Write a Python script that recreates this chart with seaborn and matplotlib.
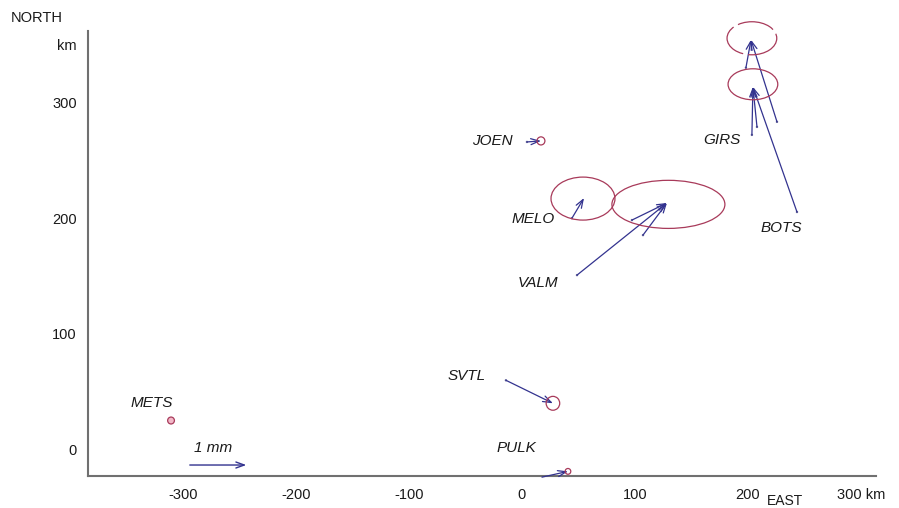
import numpy as np
import pandas as pd
import matplotlib
matplotlib.use("Agg")
import matplotlib.pyplot as plt
from matplotlib.patches import Ellipse
import seaborn as sns

# ---- data (km) ----
stations = ["JOEN", "MELO", "VALM", "GIRS", "BOTS", "SVTL", "PULK", "METS"]
label_x = [-26.5, 9.7, 14.2, 177.0, 229.2, -48.7, -5.3, -327.4]
label_y = [267.0, 199.3, 143.8, 267.8, 191.5, 63.3, 0.9, 39.9]

# velocity arrows: tail (station) -> tip
arrow_x0 = [4.4, 44.2, 48.7, 97.3, 107.1, 225.7, 198.2, 203.5, 208.0, 243.4, -14.2, 17.7]
arrow_y0 = [266.0, 200.0, 150.8, 198.4, 185.4, 283.4, 330.2, 272.1, 279.0, 205.4, 59.8, -24.0]
arrow_x1 = [16.8, 54.9, 128.3, 128.3, 128.3, 202.7, 202.7, 204.4, 204.4, 204.4, 27.4, 40.7]
arrow_y1 = [266.9, 217.5, 213.2, 213.2, 213.2, 354.4, 354.4, 313.7, 313.7, 313.7, 39.9, -19.0]

# error ellipses: centre, semi-axes
ell_x = [16.8, 54.0, 129.6, 203.5, 204.4, 27.4, 40.7, -310.6]
ell_y = [266.9, 217.0, 212.0, 355.7, 315.9, 39.9, -19.0, 25.0]
ell_a = [3.5, 28.3, 50.0, 22.0, 22.0, 6.0, 2.5, 3.0]
ell_b = [3.5, 18.6, 20.8, 14.3, 13.4, 6.0, 2.5, 3.0]

scale_x = [-294.0, -244.0]
scale_y = [-13.5, -13.5]

xticks = [-300, -200, -100, 0, 100, 200, 300]
xticklabels = ["-300", "-200", "-100", "0", "100", "200", "300 km"]
yticks = [0, 50, 100, 150, 200, 250, 300, 350]
yticklabels = ["0", "", "100", "", "200", "", "300", "km"]

sns.set_theme(style="white")
plt.rcParams["font.family"] = ["Liberation Sans", "DejaVu Sans"]

fig = plt.figure(figsize=(8.99, 5.08), dpi=100)
ax = fig.add_axes([0.098, 0.063, 0.876, 0.876])

arrow_col = "#33338f"
ell_col = "#a83a5a"

df = pd.DataFrame({"x": arrow_x0, "y": arrow_y0})
sns.scatterplot(data=df, x="x", y="y", ax=ax, s=3, color="#666699",
                edgecolor="none", legend=False, zorder=3)

for x0, y0, x1, y1 in zip(arrow_x0, arrow_y0, arrow_x1, arrow_y1):
    ax.annotate("", xy=(x1, y1), xytext=(x0, y0),
                arrowprops=dict(arrowstyle="->,head_length=0.5,head_width=0.18",
                                color=arrow_col, lw=0.9, shrinkA=0, shrinkB=0),
                annotation_clip=False)

for i, (cx, cy, a, b) in enumerate(zip(ell_x, ell_y, ell_a, ell_b)):
    fc = "#f2b8c8" if stations[i] == "METS" else "none"
    ls = (0, (30, 4)) if i == 3 else "-"
    e = Ellipse((cx, cy), 2 * a, 2 * b, facecolor=fc, edgecolor=ell_col,
                lw=0.9, linestyle=ls, clip_on=False, zorder=4)
    ax.add_patch(e)

for name, lx, ly in zip(stations, label_x, label_y):
    ax.text(lx, ly, name, ha="center", va="center", fontsize=11,
            style="italic", color="#1a1a1a")

# scale arrow
ax.annotate("", xy=(scale_x[1], scale_y[1]), xytext=(scale_x[0], scale_y[0]),
            arrowprops=dict(arrowstyle="->,head_length=0.5,head_width=0.18",
                            color=arrow_col, lw=1.0, shrinkA=0, shrinkB=0))
ax.text(-273.5, 0.9, "1 mm", ha="center", va="center", fontsize=11,
        style="italic", color="#1a1a1a")

ax.set_xlim(-384, 313)
ax.set_ylim(-23, 362)
ax.set_xticks(xticks)
ax.set_xticklabels(xticklabels)
ax.set_yticks(yticks)
ax.set_yticklabels(yticklabels)
ax.tick_params(axis="both", direction="in", length=6, width=1.0,
               color="#666666", labelsize=10.5, labelcolor="#1a1a1a")
ax.tick_params(axis="x", pad=9)
ax.tick_params(axis="y", pad=8)
for s in ["top", "right"]:
    ax.spines[s].set_visible(False)
for s in ["left", "bottom"]:
    ax.spines[s].set_color("#707070")
    ax.spines[s].set_linewidth(1.5)
ax.set_xlabel("")
ax.set_ylabel("")

fig.text(37 / 899, 1 - 18 / 508, "NORTH", ha="center", va="center",
         fontsize=10.5, color="#1a1a1a")
fig.text(785 / 899, 1 - 501 / 508, "EAST", ha="center", va="center",
         fontsize=10, color="#1a1a1a")

fig.savefig("out.png", dpi=100)
